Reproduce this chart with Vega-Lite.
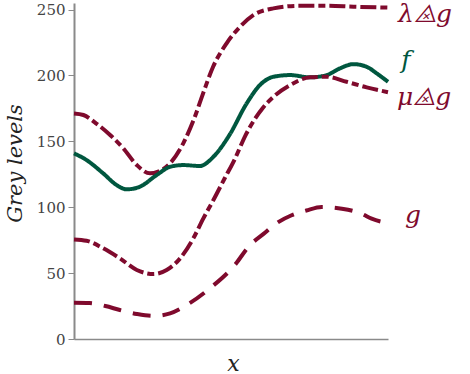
{
  "$schema": "https://vega.github.io/schema/vega-lite/v6.json",
  "width": 314,
  "height": 336,
  "autosize": "none",
  "padding": {"left": 74, "top": 3, "right": 82, "bottom": 35},
  "background": "white",
  "config": {
    "view": {"stroke": null},
    "font": "DejaVu Serif"
  },
  "datasets": {
    "curves": [
      {"series": "lam", "x": 0, "y": 171.2}, {"series": "lam", "x": 3, "y": 170}, {"series": "lam", "x": 7, "y": 163.7},
      {"series": "lam", "x": 11.5, "y": 154.8}, {"series": "lam", "x": 15.7, "y": 144.7}, {"series": "lam", "x": 20, "y": 132},
      {"series": "lam", "x": 24.2, "y": 125.7}, {"series": "lam", "x": 26.8, "y": 127}, {"series": "lam", "x": 30.6, "y": 133.3},
      {"series": "lam", "x": 34.8, "y": 148.5}, {"series": "lam", "x": 38.5, "y": 168.7}, {"series": "lam", "x": 41.2, "y": 187},
      {"series": "lam", "x": 44.3, "y": 206.6}, {"series": "lam", "x": 48.6, "y": 224.4}, {"series": "lam", "x": 52.9, "y": 237},
      {"series": "lam", "x": 57.1, "y": 245.8}, {"series": "lam", "x": 63.5, "y": 250.9}, {"series": "lam", "x": 72, "y": 252.9},
      {"series": "lam", "x": 80.5, "y": 252.9}, {"series": "lam", "x": 89, "y": 252.2}, {"series": "lam", "x": 100, "y": 251.5},

      {"series": "f", "x": 0, "y": 140.9}, {"series": "f", "x": 4, "y": 135.8}, {"series": "f", "x": 9.3, "y": 125.7},
      {"series": "f", "x": 13.6, "y": 116.8}, {"series": "f", "x": 16.8, "y": 113.6}, {"series": "f", "x": 21, "y": 115.6},
      {"series": "f", "x": 26.3, "y": 124.4}, {"series": "f", "x": 30.6, "y": 130.7}, {"series": "f", "x": 34.8, "y": 132},
      {"series": "f", "x": 40.1, "y": 131.3}, {"series": "f", "x": 44.4, "y": 138.3}, {"series": "f", "x": 49.5, "y": 154.8},
      {"series": "f", "x": 55, "y": 178.8}, {"series": "f", "x": 59.2, "y": 192.7}, {"series": "f", "x": 63.5, "y": 199},
      {"series": "f", "x": 68.8, "y": 200.3}, {"series": "f", "x": 75.2, "y": 198.6}, {"series": "f", "x": 80.5, "y": 200.3},
      {"series": "f", "x": 84.7, "y": 205.4}, {"series": "f", "x": 89, "y": 208.6}, {"series": "f", "x": 93.2, "y": 206.6},
      {"series": "f", "x": 96.4, "y": 201.6}, {"series": "f", "x": 100, "y": 195.2},

      {"series": "mu", "x": 0, "y": 75.6}, {"series": "mu", "x": 4, "y": 74.6}, {"series": "mu", "x": 9.3, "y": 68.8},
      {"series": "mu", "x": 14.6, "y": 61.2}, {"series": "mu", "x": 20, "y": 52.4}, {"series": "mu", "x": 25.3, "y": 49.3},
      {"series": "mu", "x": 29.5, "y": 52.4}, {"series": "mu", "x": 33.8, "y": 61.2}, {"series": "mu", "x": 38, "y": 76.4},
      {"series": "mu", "x": 41.2, "y": 91.6}, {"series": "mu", "x": 44.4, "y": 105.5}, {"series": "mu", "x": 48, "y": 122},
      {"series": "mu", "x": 51.3, "y": 137}, {"series": "mu", "x": 54.5, "y": 154}, {"series": "mu", "x": 57.6, "y": 167},
      {"series": "mu", "x": 60, "y": 175}, {"series": "mu", "x": 63.5, "y": 183.8}, {"series": "mu", "x": 68.8, "y": 192.7},
      {"series": "mu", "x": 75.2, "y": 198.6}, {"series": "mu", "x": 80.5, "y": 199}, {"series": "mu", "x": 86.8, "y": 195.2},
      {"series": "mu", "x": 93.2, "y": 191}, {"series": "mu", "x": 100, "y": 187.3},

      {"series": "g", "x": 0, "y": 27.5}, {"series": "g", "x": 5, "y": 27.3}, {"series": "g", "x": 10, "y": 25},
      {"series": "g", "x": 14.6, "y": 22}, {"series": "g", "x": 20, "y": 19}, {"series": "g", "x": 25.3, "y": 17.5},
      {"series": "g", "x": 30.6, "y": 19.5}, {"series": "g", "x": 35.9, "y": 25.8}, {"series": "g", "x": 43.3, "y": 38.5},
      {"series": "g", "x": 51.5, "y": 57}, {"series": "g", "x": 55.5, "y": 69.8}, {"series": "g", "x": 61, "y": 81},
      {"series": "g", "x": 64, "y": 87}, {"series": "g", "x": 69.3, "y": 93.9}, {"series": "g", "x": 74, "y": 97.5},
      {"series": "g", "x": 78.9, "y": 100.2}, {"series": "g", "x": 85.3, "y": 98.9}, {"series": "g", "x": 91.6, "y": 95.1},
      {"series": "g", "x": 94.8, "y": 91.3}, {"series": "g", "x": 100, "y": 88}
    ],
    "labels": [
      {"series": "lam", "label": "λ⨻g", "x": 103.2, "y": 240.5},
      {"series": "f", "label": "f", "x": 104.2, "y": 205.6},
      {"series": "mu", "label": "μ⨻g", "x": 102.9, "y": 177.5},
      {"series": "g", "label": "g", "x": 105.4, "y": 88}
    ]
  },
  "layer": [
    {
      "data": {"name": "curves"},
      "mark": {"type": "line", "strokeWidth": 4, "interpolate": "monotone", "strokeCap": "butt"},
      "encoding": {
        "x": {
          "field": "x", "type": "quantitative",
          "scale": {"domain": [0, 100], "nice": false, "zero": false},
          "axis": {
            "title": "x", "ticks": false, "labels": false, "grid": false,
            "domainColor": "#8a8a8a", "domainWidth": 1.5,
            "titleFont": "DejaVu Serif", "titleFontStyle": "italic", "titleFontWeight": "normal",
            "titleFontSize": 22, "titleColor": "#222222",
            "titleX": 159, "titleY": 31, "titleBaseline": "alphabetic", "titleAlign": "center"
          }
        },
        "y": {
          "field": "y", "type": "quantitative",
          "scale": {"domain": [0, 255], "nice": false, "zero": false},
          "axis": {
            "title": "Grey levels", "values": [0, 50, 100, 150, 200, 250], "grid": false,
            "domainColor": "#8a8a8a", "domainWidth": 2,
            "tickColor": "#8a8a8a", "tickSize": 6, "tickWidth": 1,
            "labelFont": "DejaVu Serif", "labelFontSize": 15, "labelColor": "#444444", "labelPadding": 3,
            "titleFont": "DejaVu Serif", "titleFontStyle": "italic", "titleFontWeight": "normal",
            "titleFontSize": 21, "titleColor": "#222222",
            "titleAngle": -90, "titleX": -53, "titleY": 160, "titleBaseline": "alphabetic", "titleAlign": "center"
          }
        },
        "color": {
          "field": "series", "type": "nominal",
          "scale": {"domain": ["lam", "f", "mu", "g"], "range": ["#7f0a2d", "#00573f", "#7f0a2d", "#7f0a2d"]},
          "legend": null
        },
        "strokeDash": {
          "field": "series", "type": "nominal",
          "scale": {"domain": ["lam", "f", "mu", "g"], "range": [[16, 4, 7, 4], [1, 0], [16, 4, 7, 4], [18, 12]]},
          "legend": null
        },
        "order": {"field": "x", "type": "quantitative"}
      }
    },
    {
      "data": {"name": "labels"},
      "mark": {"type": "text", "align": "left", "baseline": "alphabetic", "font": "DejaVu Serif", "fontStyle": "italic", "fontSize": 25},
      "encoding": {
        "x": {"field": "x", "type": "quantitative"},
        "y": {"field": "y", "type": "quantitative"},
        "text": {"field": "label"},
        "color": {"field": "series", "type": "nominal", "legend": null}
      }
    }
  ]
}
